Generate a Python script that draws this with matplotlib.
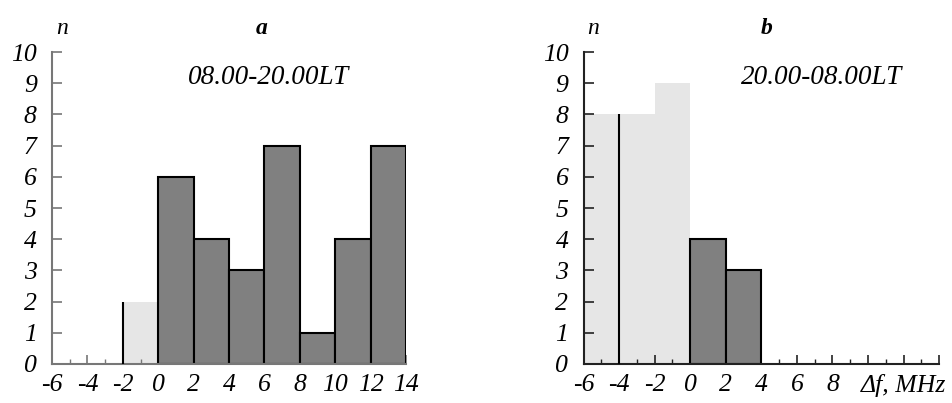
"""
Two-panel histogram of frequency shift (day vs night), redrawn with matplotlib.
"""

import matplotlib.pyplot as plt
from matplotlib.ticker import MultipleLocator

# bin left edges (MHz), bin width 2
bins_a = [-2, 0, 2, 4, 6, 8, 10, 12]
counts_a = [2, 6, 4, 3, 7, 1, 4, 7]
dark_a = [False, True, True, True, True, True, True, True]
edge_a = [True, False, False, False, False, False, False, False]

bins_b = [-6, -4, -2, 0, 2]
counts_b = [8, 8, 9, 4, 3]
dark_b = [False, False, False, True, True]
edge_b = [False, True, False, False, False]

x_ticks = [-6, -4, -2, 0, 2, 4, 6, 8, 10, 12, 14]
x_labels_a = ["-6", "-4", "-2", "0", "2", "4", "6", "8", "10", "12", "14"]
x_labels_b = ["-6", "-4", "-2", "0", "2", "4", "6", "8", "", "Δf, MHz", ""]
y_ticks = list(range(0, 11))

BIN_W = 2
DARK = "#808080"
LIGHT = "#e6e6e6"

plt.rcParams["font.family"] = ["Liberation Serif", "DejaVu Serif"]
plt.rcParams["font.style"] = "italic"


def draw_panel(ax, bins, counts, dark, edge, xlabels, spine_color, letter,
               period, period_x, letter_x):
    for left, h, d, e in zip(bins, counts, dark, edge):
        if d:
            ax.bar(left, h, width=BIN_W, align="edge", color=DARK,
                   edgecolor="black", linewidth=1.5, zorder=2)
        else:
            ax.bar(left, h, width=BIN_W, align="edge", color=LIGHT,
                   linewidth=0, zorder=1)
        if e:
            ax.vlines(left, 0, h, color="black", linewidth=1.5, zorder=3)

    ax.set_xlim(-6, 14)
    ax.set_ylim(0, 10)
    for s in ("top", "right"):
        ax.spines[s].set_visible(False)
    for s in ("left", "bottom"):
        ax.spines[s].set_color(spine_color)
        ax.spines[s].set_linewidth(1.5)

    ax.set_xticks(x_ticks)
    ax.set_xticklabels(xlabels)
    ax.xaxis.set_minor_locator(MultipleLocator(1))
    ax.set_yticks(y_ticks)
    ax.tick_params(axis="x", which="major", direction="in", length=6.5,
                   width=1.2, color=spine_color, pad=7, labelsize=18.5)
    ax.tick_params(axis="x", which="minor", direction="in", length=3.5,
                   width=1, color=spine_color)
    ax.tick_params(axis="y", direction="in", length=7, width=1.2,
                   color=spine_color, pad=11, labelsize=18.5)

    ax.text(-5.45, 10.75, "n", fontsize=17, ha="center", va="center",
            clip_on=False)
    ax.text(letter_x, 10.75, letter, fontsize=17, fontweight="bold",
            ha="center", va="center", clip_on=False)
    ax.text(period_x, 9.2, period, fontsize=19.5, ha="center", va="center")


fig = plt.figure(figsize=(9.53, 4.03), dpi=100)
ax_a = fig.add_axes([0.0546, 0.0968, 0.3715, 0.774])
ax_b = fig.add_axes([0.6124, 0.0968, 0.373, 0.774])

draw_panel(ax_a, bins_a, counts_a, dark_a, edge_a, x_labels_a, "#777777",
           "a", "08.00-20.00LT", 6.25, 5.86)
draw_panel(ax_b, bins_b, counts_b, dark_b, edge_b, x_labels_b, "#222222",
           "b", "20.00-08.00LT", 7.4, 4.27)

fig.savefig("out.png", dpi=100)
